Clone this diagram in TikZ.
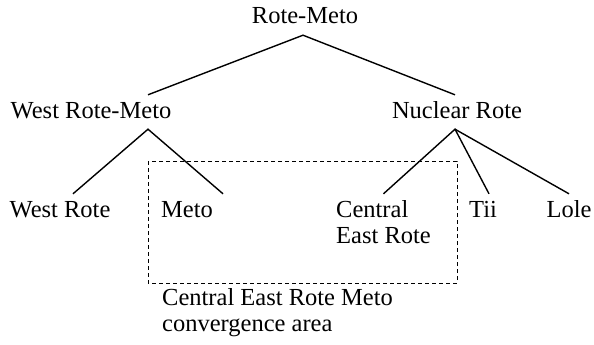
\documentclass[tikz,border=0pt]{standalone}
\usepackage{fontspec}
\setmainfont{Liberation Serif}
\tikzset{
    lbl/.style={font=\fontsize{24.5}{26}\selectfont, anchor=base, inner xsep=0pt, inner ysep=6pt, text height=17pt, text depth=5pt},
    lbltwo/.style={font=\fontsize{24.5}{26}\selectfont, anchor=base west, inner xsep=0pt, inner ysep=6pt, align=left},
    branch/.style={line width=1.4pt},
    area/.style={line width=0.8pt, dash pattern=on 4pt off 3pt}
}
\begin{document}
\begin{tikzpicture}[x=1pt, y=-1pt]

    % Fix the size of the picture
    \useasboundingbox (0, 0) rectangle (594, 345);

    % Draw the root and the two branches
    \node[lbl] (rotemeto) at (305, 24) {Rote-Meto};
    \node[lbl] (westrm) at (91, 118) {West Rote-Meto};
    \node[lbl] (nucrote) at (457, 118) {Nuclear Rote};

    % Add the languages at the bottom (two-line labels sit on their last line)
    \node[lbl] (westrote) at (60, 217) {West Rote};
    \node[lbl] (meto) at (187, 217) {Meto};
    \node[lbltwo] (central) at (336, 243) {Central\\East Rote};
    \node[lbl] (tii) at (483, 217) {Tii};
    \node[lbl] (lole) at (569, 217) {Lole};

    % Draw the lines of the tree
    \draw[branch] ([xshift=57pt]westrm.north) -- ([xshift=-2pt]rotemeto.south) -- ([xshift=-2pt]nucrote.north);
    \draw[branch] ([xshift=13pt]westrote.north) -- ([xshift=57pt]westrm.south) -- ([xshift=36pt]meto.north);
    \draw[branch] (central.north) -- ([xshift=-2pt]nucrote.south) -- ([xshift=6pt]tii.north);
    \draw[branch] ([xshift=-2pt]nucrote.south) -- (lole.north);

    % Draw the dashed area and its label
    \draw[area] (148, 161) rectangle (457, 283);
    \node[lbltwo] (conv) at (162, 331) {Central East Rote Meto\\convergence area};

\end{tikzpicture}
\end{document}
